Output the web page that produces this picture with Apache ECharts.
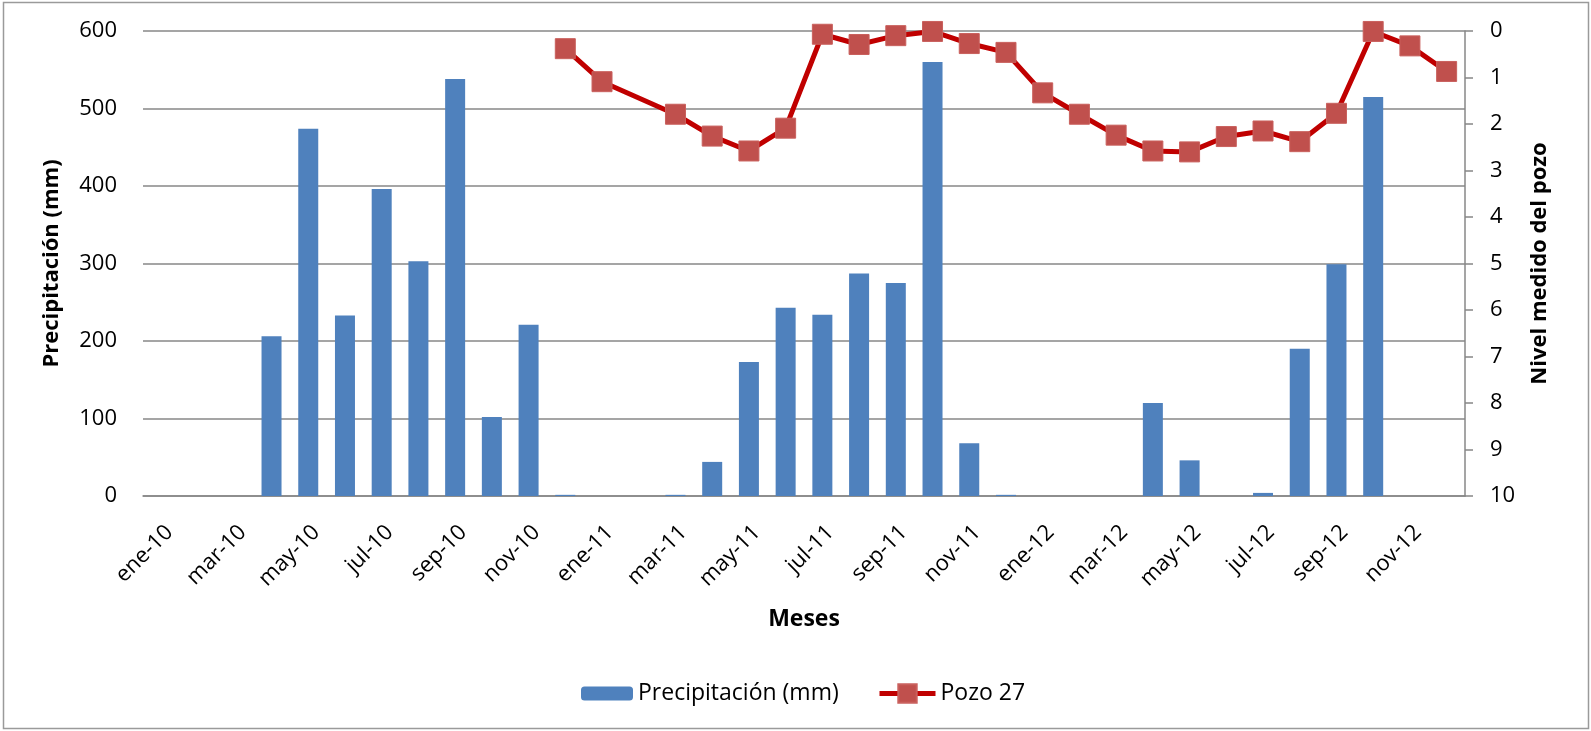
<!DOCTYPE html>
<html>
<head>
<meta charset="utf-8">
<script src="https://cdn.jsdelivr.net/npm/echarts@6/dist/echarts.min.js"></script>
<style>
  html, body { margin: 0; padding: 0; background: #fff; }
  #chart { width: 1591px; height: 731px; }
</style>
</head>
<body>
<div id="chart"></div>
<script>
// Months, Jan 2010 – Dec 2012
const months = [
  'ene-10','feb-10','mar-10','abr-10','may-10','jun-10','jul-10','ago-10','sep-10','oct-10','nov-10','dic-10',
  'ene-11','feb-11','mar-11','abr-11','may-11','jun-11','jul-11','ago-11','sep-11','oct-11','nov-11','dic-11',
  'ene-12','feb-12','mar-12','abr-12','may-12','jun-12','jul-12','ago-12','sep-12','oct-12','nov-12','dic-12'
];

// Monthly precipitation (mm)
const precipitation = [
  0, 0, 0, 206, 474, 233, 396, 303, 538, 102, 221, 1.5,
  0, 0, 1.5, 44, 173, 243, 234, 287, 275, 560, 68, 1.5,
  0, 0, 0, 120, 46, 0, 4, 190, 299, 515, 0, 0
];

// Measured water level of well 27 (no reading in Feb 2011)
const pozo27 = [
  null, null, null, null, null, null, null, null, null, null, null, 0.38,
  1.09, null, 1.79, 2.26, 2.58, 2.09, 0.07, 0.29, 0.10, 0.01, 0.27, 0.46,
  1.33, 1.79, 2.24, 2.58, 2.60, 2.27, 2.15, 2.38, 1.77, 0.01, 0.32, 0.87
];

// Axis ranges
const precipAxis = { min: 0, max: 600, interval: 100 };
const levelAxis = { min: 0, max: 10, interval: 1 };
const monthLabelStep = 2;

const FONT = '"Open Sans", "Noto Sans", sans-serif';
const GRAY = '#878787';

const chart = echarts.init(document.getElementById('chart'), null, { renderer: 'canvas' });

const borderRect = {
  id: 'frame',
  type: 'rect',
  shape: { x: 3.5, y: 2.5, width: 1585, height: 726 },
  style: { fill: 'none', stroke: '#9a9a9a', lineWidth: 1.5 },
  silent: true
};

function buildOption(extraGraphics) {
  return {
    backgroundColor: '#ffffff',
    animation: false,
    textStyle: { fontFamily: FONT, color: '#000' },
    graphic: [borderRect].concat(extraGraphics),
    grid: { left: 143, right: 126, top: 31, bottom: 235 },
    legend: [{
      left: 576,
      top: 677,
      itemWidth: 52,
      itemHeight: 14,
      textStyle: { fontFamily: FONT, fontSize: 23, color: '#000' },
      data: ['Precipitación (mm)']
    }, {
      left: 872,
      top: 677,
      itemWidth: 56,
      itemHeight: 23,
      lineStyle: { width: 5 },
      textStyle: { fontFamily: FONT, fontSize: 23, color: '#000' },
      data: ['Pozo 27']
    }],
    xAxis: {
      type: 'category',
      data: months,
      boundaryGap: true,
      name: 'Meses',
      nameLocation: 'middle',
      nameGap: 112,
      nameTextStyle: { fontFamily: FONT, fontSize: 23, fontWeight: 'bold', color: '#000' },
      axisLine: { show: true, lineStyle: { color: GRAY, width: 1.5 } },
      axisTick: { show: false },
      // month labels are drawn as slanted text graphics (see monthLabels)
      axisLabel: { show: false }
    },
    yAxis: [{
      type: 'value',
      min: precipAxis.min,
      max: precipAxis.max,
      interval: precipAxis.interval,
      name: 'Precipitación (mm)',
      nameLocation: 'middle',
      nameRotate: 90,
      nameGap: 80,
      nameTextStyle: { fontFamily: FONT, fontSize: 22, fontWeight: 'bold', color: '#000' },
      axisLine: { show: false },
      axisTick: { show: false },
      axisLabel: { margin: 26, fontFamily: FONT, fontSize: 22, color: '#000' },
      splitLine: { show: true, lineStyle: { color: GRAY, width: 1.5 } }
    }, {
      type: 'value',
      position: 'right',
      inverse: true,
      min: levelAxis.min,
      max: levelAxis.max,
      interval: levelAxis.interval,
      name: 'Nivel medido del pozo',
      nameLocation: 'middle',
      nameRotate: 90,
      nameGap: 64,
      nameTextStyle: { fontFamily: FONT, fontSize: 22, fontWeight: 'bold', color: '#000' },
      axisLine: { show: true, lineStyle: { color: GRAY, width: 1.5 } },
      axisTick: { show: true, inside: false, length: 8, lineStyle: { color: GRAY, width: 1.5 } },
      axisLabel: { margin: 25, fontFamily: FONT, fontSize: 22, color: '#000' },
      splitLine: { show: false }
    }],
    series: [{
      name: 'Precipitación (mm)',
      type: 'bar',
      yAxisIndex: 0,
      data: precipitation,
      barWidth: 20,
      itemStyle: { color: '#4F81BD' }
    }, {
      name: 'Pozo 27',
      type: 'line',
      yAxisIndex: 1,
      data: pozo27,
      connectNulls: true,
      showAllSymbol: true,
      symbol: 'rect',
      symbolSize: 20,
      lineStyle: { color: '#C00000', width: 5 },
      itemStyle: { color: '#C0504D', borderColor: '#C9605D', borderWidth: 1 },
      z: 3
    }]
  };
}

chart.setOption(buildOption([]));

// Slanted month labels (every second month), placed with the category axis scale
function monthLabels() {
  const axisY = chart.convertToPixel({ yAxisIndex: 0 }, precipAxis.min);
  const labels = [];
  months.forEach((m, i) => {
    if (i % monthLabelStep !== 0) return;
    const cx = chart.convertToPixel({ xAxisIndex: 0 }, m);
    labels.push({
      type: 'text',
      id: 'month-' + i,
      x: cx + 8,
      y: axisY + 33,
      rotation: Math.PI / 4,
      silent: true,
      style: {
        text: m,
        align: 'right',
        verticalAlign: 'middle',
        font: '22px ' + FONT,
        fill: '#000'
      }
    });
  });
  return labels;
}

const labels = monthLabels();
chart.clear();
chart.setOption(buildOption(labels));
</script>
</body>
</html>
